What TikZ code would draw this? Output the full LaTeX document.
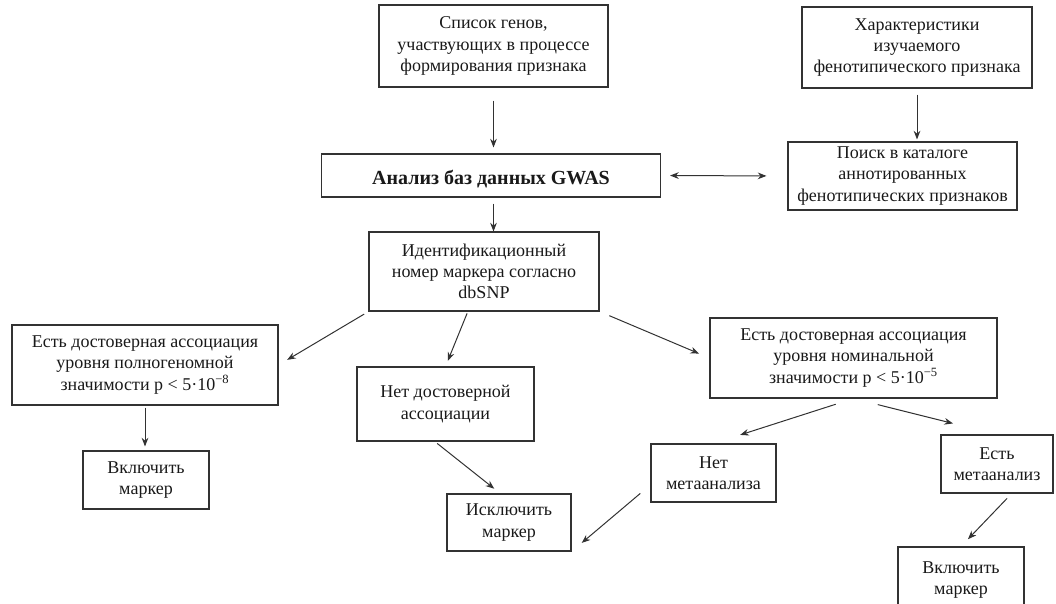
\documentclass[tikz,border=0pt]{standalone}
\usepackage{fontspec}
\setmainfont{Liberation Serif}
\usepackage{tikz}
\usetikzlibrary{arrows.meta}
\usetikzlibrary{calc}
\usetikzlibrary{positioning}

\definecolor{edgegray}{RGB}{50,50,50}
\tikzset{
  blk/.style={draw=edgegray, line width=0.8pt, align=center, inner sep=0pt,
    text=black!90, font=\fontsize{13.5}{16}\selectfont,
    execute at begin node={\rule{0pt}{15.5pt}}},
  wh/.style 2 args={minimum width=#1*0.75pt, minimum height=#2*0.75pt},
  arr/.style={draw=edgegray, line width=0.75pt, -{Stealth[length=6.5pt, width=5pt]}},
}

\begin{document}
\begin{tikzpicture}[x=0.75pt, y=-0.75pt]
    \useasboundingbox (0, 0) rectangle (1056, 603);
    % top row
    \node[blk, wh={229}{82}] at (493.5, 46) (genes) {Список генов,\\участвующих в процессе\\формирования признака};
    \node[blk, wh={230}{81}] at (917, 47.5) (trait) {Характеристики\\изучаемого\\фенотипического признака};
    \node[blk, wh={339}{43}, font=\fontsize{15}{17}\selectfont\bfseries] at (491, 175.5) (gwas) {Анализ баз данных GWAS};
    \node[blk, wh={229}{68}] at (902.5, 176) (catalog) {Поиск в каталоге\\аннотированных\\фенотипических признаков};
    \node[blk, wh={230}{79}] at (484, 271.5) (snpid) {Идентификационный\\номер маркера согласно\\dbSNP};
    % association levels
    \node[blk, wh={266}{80}] at (145, 365) (gwsig) {Есть достоверная ассоциация\\уровня полногеномной\\значимости p < 5·10\textsuperscript{−8}};
    \node[blk, wh={177}{74}] at (445.5, 404) (nosig) {Нет достоверной\\ассоциации};
    \node[blk, wh={287}{80}] at (853.5, 358) (nomsig) {Есть достоверная ассоциация\\уровня номинальной\\значимости p < 5·10\textsuperscript{−5}};
    % decisions
    \node[blk, wh={126}{58}] at (146, 480) (incl1) {Включить\\маркер};
    \node[blk, wh={124}{57}] at (509, 522.5) (excl) {Исключить\\маркер};
    \node[blk, wh={125}{58}] at (713.5, 473) (nometa) {Нет\\метаанализа};
    \node[blk, wh={112}{58}] at (997, 464) (meta) {Есть\\метаанализ};
    \node[blk, wh={126}{66}] at (961, 580) (incl2) {Включить\\маркер};

    \draw[arr, shorten <=9.75pt, shorten >=4.5pt] (genes.south) -- (genes.south |- gwas.north);
    \draw[arr, shorten <=4.5pt] (genes.south |- gwas.south) -- (genes.south |- snpid.north);
    \draw[arr, shorten <=4.5pt, shorten >=1.5pt] (trait.south) -- (trait.south |- catalog.north);
    \draw[arr, {Stealth[length=6.5pt, width=5pt]}-{Stealth[length=6.5pt, width=5pt]},
      shorten <=6.75pt, shorten >=15.75pt] (gwas.east) -- (catalog.west);
    % from the marker id
    \draw[arr, shorten <=3.75pt, shorten >=7.5pt] (snpid.south west) -- (gwsig.east);
    \draw[arr, shorten <=1.5pt, shorten >=4.5pt] ($(snpid.south west)!0.43!(snpid.south east)$) -- (nosig.north);
    \draw[arr, shorten <=8pt, shorten >=8.5pt] (snpid.south east) -- (nomsig.west);
    % to the decisions
    \draw[arr, shorten <=1.5pt, shorten >=3pt] (gwsig.south) -- (gwsig.south |- incl1.north);
    \draw[arr, shorten <=2.25pt, shorten >=5.7pt] ($(nosig.south west)!0.44!(nosig.south east)$) -- ($(excl.north west)!0.43!(excl.north east)$);
    \draw[arr, shorten <=14pt, shorten >=21pt] (nomsig.south) -- (nometa.north);
    \draw[arr, shorten <=18.75pt, shorten >=34pt] (nomsig.south) -- (meta.north);
    \draw[arr, shorten <=10pt, shorten >=10pt] ($(nometa.south west)!0.3!(nometa.north west)$) -- (excl.south east);
    \draw[arr, shorten <=5pt, shorten >=7.5pt] ($(meta.south west)!0.63!(meta.south east)$) -- (incl2.north);
\end{tikzpicture}
\end{document}
